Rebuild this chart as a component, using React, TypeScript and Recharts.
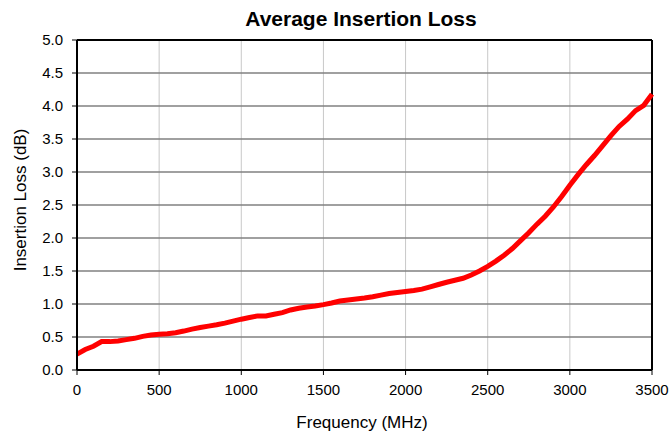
import {
  CartesianGrid,
  Line,
  LineChart,
  ReferenceLine,
  XAxis,
  YAxis,
} from "recharts";

const freqMHz = [
  0, 50, 100, 150, 200, 250, 300, 350, 400, 450, 500, 550, 600, 650, 700, 750,
  800, 850, 900, 950, 1000, 1050, 1100, 1150, 1200, 1250, 1300, 1350, 1400,
  1450, 1500, 1550, 1600, 1650, 1700, 1750, 1800, 1850, 1900, 1950, 2000, 2050,
  2100, 2150, 2200, 2250, 2300, 2350, 2400, 2450, 2500, 2550, 2600, 2650, 2700,
  2750, 2800, 2850, 2900, 2950, 3000, 3050, 3100, 3150, 3200, 3250, 3300, 3350,
  3400, 3450, 3500,
];

const lossDb = [
  0.24, 0.31, 0.36, 0.43, 0.43, 0.44, 0.46, 0.48, 0.51, 0.53, 0.54, 0.55,
  0.565, 0.59, 0.62, 0.645, 0.665, 0.685, 0.71, 0.74, 0.77, 0.795, 0.82, 0.82,
  0.845, 0.87, 0.91, 0.935, 0.955, 0.97, 0.99, 1.015, 1.045, 1.06, 1.075, 1.09,
  1.11, 1.135, 1.16, 1.175, 1.19, 1.205, 1.225, 1.26, 1.295, 1.33, 1.36, 1.39,
  1.44, 1.5, 1.57, 1.65, 1.74, 1.84, 1.96, 2.08, 2.21, 2.33, 2.47, 2.63, 2.8,
  2.96, 3.11, 3.25, 3.4, 3.55, 3.69, 3.8, 3.93, 4.01, 4.18,
];

const xTicks = [0, 500, 1000, 1500, 2000, 2500, 3000, 3500];
const yTicks = [0, 0.5, 1, 1.5, 2, 2.5, 3, 3.5, 4, 4.5, 5];

const data = freqMHz.map((f, i) => ({ f, loss: lossDb[i] }));

const FONT = "'Liberation Sans', Arial, sans-serif";

export default function App() {
  return (
    <div
      style={{
        position: "absolute",
        left: 0,
        top: 0,
        width: 671,
        height: 433,
        background: "#fff",
        fontFamily: FONT,
      }}
    >
      <div
        style={{
          position: "absolute",
          top: 6,
          left: 0,
          width: 722,
          textAlign: "center",
          fontWeight: "bold",
          fontSize: 21,
          lineHeight: "26px",
          color: "#000",
        }}
      >
        Average Insertion Loss
      </div>
      <div
        style={{
          position: "absolute",
          left: 21,
          top: 200,
          transform: "translate(-50%, -50%) rotate(-90deg)",
          whiteSpace: "nowrap",
          fontSize: 17,
          lineHeight: "20px",
          color: "#000",
        }}
      >
        Insertion Loss (dB)
      </div>
      <div
        style={{
          position: "absolute",
          top: 413,
          left: 0,
          width: 724,
          textAlign: "center",
          fontSize: 17,
          lineHeight: "20px",
          color: "#000",
        }}
      >
        Frequency (MHz)
      </div>
      <LineChart
        width={671}
        height={433}
        data={data}
        margin={{ top: 40, right: 19, left: 0, bottom: 0 }}
        style={{ position: "absolute", left: 0, top: 0 }}
      >
        <CartesianGrid stroke="#c8c8c8" horizontal={false} />
        <CartesianGrid stroke="#808080" strokeWidth={1.5} vertical={false} />
        <XAxis
          type="number"
          dataKey="f"
          domain={[0, 3500]}
          ticks={xTicks}
          height={63}
          tick={{ fontSize: 15, fill: "#000", fontFamily: FONT }}
          tickSize={5}
          tickMargin={9}
          axisLine={{ stroke: "#000", strokeWidth: 2 }}
          tickLine={{ stroke: "#000" }}
        />
        <YAxis
          type="number"
          domain={[0, 5]}
          ticks={yTicks}
          width={77}
          tickFormatter={(v) => Number(v).toFixed(1)}
          tick={{ fontSize: 15, fill: "#000", fontFamily: FONT }}
          tickSize={5}
          tickMargin={9}
          axisLine={{ stroke: "#000", strokeWidth: 2 }}
          tickLine={{ stroke: "#000" }}
        />
        <ReferenceLine y={5} stroke="#000" strokeWidth={2} />
        <ReferenceLine x={3500} stroke="#000" strokeWidth={2} />
        <Line
          type="linear"
          dataKey="loss"
          stroke="#ff0000"
          strokeWidth={5}
          dot={false}
          isAnimationActive={false}
        />
      </LineChart>
    </div>
  );
}
